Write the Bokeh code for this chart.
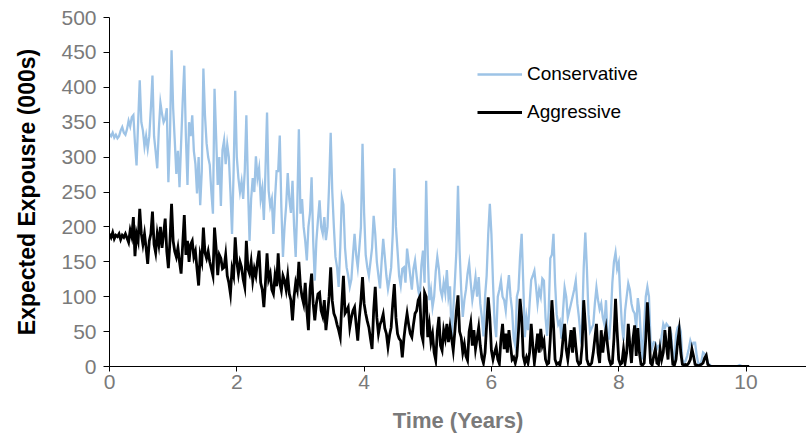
import numpy as np
from bokeh.plotting import figure
from bokeh.models import Range1d, Legend, LegendItem, FixedTicker
from bokeh.embed import file_html
from bokeh.resources import INLINE

time_step_years = 0.025

conservative = [
    333, 330, 335, 328, 332, 327, 330, 338, 343, 335, 332, 340, 352, 344, 357, 360, 320, 288, 350, 410,
    350, 338, 315, 330, 312, 330, 370, 417, 330, 308, 284, 340, 378, 362, 350, 355, 370, 264, 330, 453,
    370, 324, 276, 309, 257, 320, 380, 431, 330, 260, 350, 330, 360, 309, 290, 248, 300, 231, 280, 427,
    360, 320, 300, 289, 250, 219, 398, 330, 260, 300, 230, 310, 324, 290, 318, 300, 250, 190, 280, 395,
    300, 270, 250, 265, 240, 280, 360, 260, 180, 240, 270, 250, 301, 270, 284, 240, 255, 210, 280, 364,
    252, 230, 240, 190, 240, 280, 280, 331, 228, 157, 200, 230, 277, 240, 220, 266, 200, 157, 230, 340,
    219, 240, 200, 180, 152, 200, 220, 271, 180, 123, 180, 210, 238, 200, 190, 214, 181, 200, 260, 335,
    250, 200, 157, 142, 114, 170, 242, 232, 170, 142, 130, 114, 125, 160, 190, 160, 142, 170, 200, 319,
    220, 160, 142, 130, 150, 170, 216, 190, 150, 130, 112, 150, 183, 157, 130, 111, 125, 142, 190, 284,
    200, 166, 130, 116, 140, 142, 120, 169, 150, 130, 110, 140, 152, 130, 110, 98, 145, 166, 120, 266,
    160, 95, 110, 85, 100, 136, 157, 140, 110, 100, 120, 105, 138, 100, 115, 42, 80, 120, 166, 259,
    166, 110, 71, 95, 110, 133, 148, 120, 95, 110, 128, 100, 128, 90, 70, 43, 100, 130, 190, 233,
    190, 120, 63, 42, 100, 110, 123, 100, 95, 80, 110, 131, 100, 80, 40, 30, 100, 110, 157, 190,
    120, 42, 70, 52, 90, 124, 130, 137, 115, 90, 110, 100, 126, 123, 70, 44, 80, 155, 160, 190,
    120, 75, 60, 65, 40, 80, 113, 100, 70, 80, 90, 100, 110, 123, 90, 70, 44, 60, 142, 192,
    140, 75, 50, 55, 60, 90, 113, 95, 82, 90, 70, 60, 95, 40, 40, 70, 120, 150, 163, 140,
    149, 100, 60, 37, 80, 100, 119, 110, 90, 80, 76, 55, 98, 80, 40, 10, 60, 100, 114, 100,
    37, 26, 35, 34, 25, 30, 30, 44, 61, 55, 61, 58, 56, 47, 14, 10, 45, 56, 59, 50,
    10, 5, 8, 15, 25, 37, 30, 34, 34, 16, 4, 3, 8, 20, 18, 16, 5, 3, 1, 0,
    0, 0, 0, 0.5, 0, 0, 0, 0, 0, 0, 0, 0, 0, 0, 0, 1, 2, 1, 0, 0,
    0, 0, 0,
]

aggressive = [
    190, 185, 192, 183, 188, 186, 190, 182, 188, 185, 190, 184, 178, 195, 186, 214, 158, 190, 180, 226,
    190, 175, 190, 170, 147, 180, 190, 222, 175, 163, 190, 175, 200, 170, 190, 212, 165, 141, 180, 233,
    180, 165, 157, 170, 150, 133, 175, 217, 160, 180, 150, 175, 180, 157, 165, 140, 116, 160, 150, 199,
    163, 155, 165, 150, 140, 130, 199, 170, 131, 160, 155, 140, 142, 160, 130, 120, 104, 140, 130, 185,
    150, 133, 150, 142, 125, 114, 180, 140, 133, 150, 123, 140, 130, 150, 166, 120, 110, 85, 120, 162,
    125, 133, 110, 104, 130, 115, 162, 120, 109, 130, 123, 110, 130, 104, 95, 66, 100, 120, 110, 150,
    115, 100, 90, 120, 80, 52, 110, 133, 90, 66, 90, 104, 106, 80, 72, 95, 52, 75, 100, 142,
    94, 76, 70, 60, 52, 42, 90, 130, 76, 80, 85, 56, 70, 80, 85, 60, 37, 70, 95, 128,
    90, 76, 65, 56, 40, 25, 80, 114, 70, 47, 60, 66, 75, 55, 47, 28, 45, 56, 90, 118,
    70, 47, 40, 37, 13, 40, 60, 76, 60, 47, 42, 60, 76, 80, 95, 100, 47, 37, 106, 100,
    42, 60, 35, 47, 20, 9, 50, 71, 30, 23, 52, 40, 61, 35, 56, 40, 23, 50, 80, 102,
    50, 42, 20, 32, 15, 9, 50, 63, 30, 52, 25, 40, 56, 30, 13, 5, 20, 60, 99, 70,
    23, 10, 20, 28, 10, 4, 40, 61, 25, 47, 20, 52, 30, 10, 13, 5, 15, 50, 97, 70,
    15, 5, 13, 5, 20, 61, 30, 5, 25, 47, 20, 54, 30, 37, 10, 3, 5, 40, 95, 60,
    10, 3, 5, 2, 15, 40, 61, 25, 10, 30, 52, 20, 56, 30, 8, 3, 5, 30, 95, 60,
    10, 3, 2, 5, 20, 40, 61, 20, 5, 52, 20, 40, 54, 30, 10, 3, 5, 40, 97, 50,
    10, 3, 5, 25, 5, 20, 61, 30, 5, 40, 59, 15, 55, 20, 3, 2, 5, 40, 92, 50,
    5, 2, 15, 25, 5, 3, 25, 10, 20, 52, 30, 10, 57, 30, 3, 2, 10, 35, 52, 20,
    3, 2, 3, 2, 5, 10, 25, 15, 3, 2, 1, 2, 3, 5, 12, 16, 3, 1, 0, 0,
    0, 0, 0, 0, 0, 0, 0, 0, 0, 0, 0, 0, 0, 0, 0, 0, 0, 0, 0, 0,
    0, 0, 0,
]

x_ticks = [0, 2, 4, 6, 8, 10]
y_ticks = [0, 50, 100, 150, 200, 250, 300, 350, 400, 450, 500]
series_names = ["Conservative", "Aggressive"]
x_title = "Time (Years)"
y_title = "Expected Expousre (000s)"

time_years = np.arange(len(conservative)) * time_step_years

FONT = "Liberation Sans"
GRAY = "#7a7a7a"
BLUE = "#9dc3e6"

p = figure(
    width=806, height=435,
    x_range=Range1d(0, 10.95), y_range=Range1d(0, 500),
    output_backend="svg", toolbar_location=None,
    min_border_left=109, min_border_right=0, min_border_top=17, min_border_bottom=69,
)
p.outline_line_color = None
p.background_fill_color = "white"
p.border_fill_color = "white"
p.xgrid.visible = False
p.ygrid.visible = False

r_cons = p.line(time_years, conservative, line_color=BLUE, line_width=2.3,
                line_join="miter")
r_aggr = p.line(time_years, aggressive, line_color="black", line_width=2.8,
                line_join="miter")

for ax in (p.xaxis[0], p.yaxis[0]):
    ax.axis_line_color = "black"
    ax.axis_line_width = 1
    ax.major_tick_line_color = "black"
    ax.major_tick_out = 6
    ax.major_tick_in = 0
    ax.minor_tick_line_color = None
    ax.major_label_text_font = FONT
    ax.major_label_text_font_size = "21px"
    ax.major_label_text_color = GRAY
    ax.axis_label_text_font = FONT
    ax.axis_label_text_font_style = "bold"

p.xaxis[0].ticker = FixedTicker(ticks=x_ticks)
p.yaxis[0].ticker = FixedTicker(ticks=y_ticks)

p.xaxis[0].axis_label = x_title
p.xaxis[0].axis_label_text_font_size = "22px"
p.xaxis[0].axis_label_text_color = GRAY
p.xaxis[0].axis_label_text_line_height = 0.8
p.xaxis[0].major_label_text_line_height = 0.9
p.xaxis[0].major_tick_out = 5
p.xaxis[0].major_label_standoff = 3
p.xaxis[0].axis_label_standoff = 16

p.yaxis[0].axis_label = y_title
p.yaxis[0].axis_label_text_font_size = "23px"
p.yaxis[0].axis_label_text_color = "black"
p.yaxis[0].major_label_standoff = 7
p.yaxis[0].axis_label_standoff = 18

legend = Legend(
    items=[LegendItem(label=series_names[0], renderers=[r_cons]),
           LegendItem(label=series_names[1], renderers=[r_aggr])],
    location=(368, 243),
    border_line_color=None, background_fill_alpha=0,
    glyph_width=45, glyph_height=22, label_standoff=5, spacing=16,
    padding=0, margin=0,
    label_text_font=FONT, label_text_font_size="19px", label_text_color="black",
)
p.add_layout(legend)

open("out.html", "w").write(file_html(p, INLINE))
